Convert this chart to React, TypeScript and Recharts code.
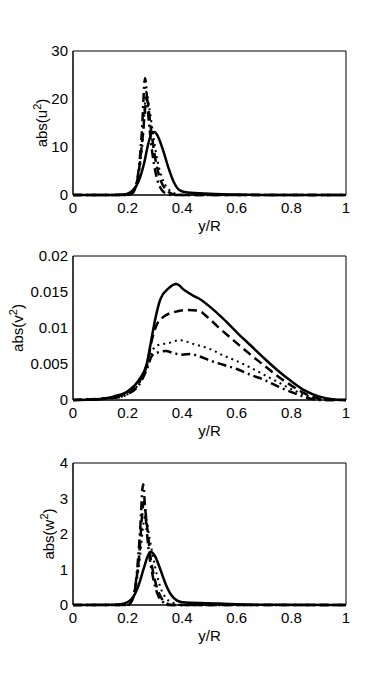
import { LineChart, Line, XAxis, YAxis } from "recharts";

// x positions (y/R) shared tick labels
const xTicks = [0, 0.2, 0.4, 0.6, 0.8, 1];

// abs(u^2)
const uTicks = [0, 10, 20, 30];
const uSolid = [[0, 0], [0.15, 0], [0.18, 0.1], [0.2, 0.3], [0.22, 1], [0.24, 2.8], [0.26, 6.5], [0.275, 10.5], [0.29, 13], [0.3, 13.1], [0.31, 12.3], [0.33, 9.3], [0.35, 5.6], [0.37, 2.6], [0.39, 1.0], [0.42, 0.5], [0.5, 0.25], [0.6, 0.08], [0.7, 0.02], [1, 0]];
const uDashed = [[0, 0], [0.2, 0], [0.22, 0.6], [0.24, 4.5], [0.255, 12], [0.27, 20], [0.285, 14], [0.3, 8], [0.32, 3.2], [0.34, 1.1], [0.36, 0.3], [0.38, 0], [1, 0]];
const uDotted = [[0, 0], [0.2, 0], [0.22, 0.5], [0.24, 4], [0.255, 11], [0.268, 21.5], [0.28, 18], [0.295, 12], [0.31, 7], [0.33, 3], [0.35, 1.2], [0.37, 0.4], [0.4, 0.05], [1, 0]];
const uDashDot = [[0, 0], [0.2, 0], [0.22, 0.6], [0.24, 5], [0.252, 13], [0.264, 24.3], [0.275, 17], [0.29, 9], [0.305, 4], [0.32, 1.5], [0.34, 0.3], [0.36, 0], [1, 0]];

// abs(v^2)
const vTicks = [0, 0.005, 0.01, 0.015, 0.02];
const vSolid = [[0, 0], [0.1, 0.0001], [0.15, 0.0005], [0.2, 0.0012], [0.24, 0.0027], [0.27, 0.005], [0.29, 0.009], [0.3, 0.011], [0.32, 0.014], [0.35, 0.0155], [0.378, 0.0161], [0.41, 0.0152], [0.44, 0.0145], [0.47, 0.0139], [0.5, 0.013], [0.55, 0.0113], [0.6, 0.0094], [0.65, 0.0076], [0.7, 0.0058], [0.75, 0.0041], [0.8, 0.0026], [0.85, 0.0013], [0.9, 0.0005], [0.95, 0.0001], [1, 0]];
const vDashed = [[0, 0], [0.15, 0.0004], [0.2, 0.001], [0.24, 0.0024], [0.27, 0.0048], [0.29, 0.0085], [0.305, 0.0103], [0.33, 0.0115], [0.37, 0.0122], [0.42, 0.0125], [0.46, 0.0124], [0.49, 0.0116], [0.53, 0.0102], [0.6, 0.0079], [0.65, 0.0063], [0.7, 0.0048], [0.75, 0.0033], [0.8, 0.002], [0.85, 0.0009], [0.9, 0.0002], [0.93, 0], [1, 0]];
const vDotted = [[0, 0], [0.15, 0.0003], [0.2, 0.0008], [0.24, 0.0022], [0.27, 0.0045], [0.29, 0.0068], [0.31, 0.0076], [0.35, 0.0079], [0.39, 0.0083], [0.44, 0.0078], [0.5, 0.0071], [0.55, 0.0062], [0.6, 0.0054], [0.65, 0.0045], [0.7, 0.0035], [0.75, 0.0025], [0.8, 0.0015], [0.85, 0.0007], [0.9, 0.0001], [0.92, 0], [1, 0]];
const vDashDot = [[0, 0], [0.15, 0.0003], [0.2, 0.0008], [0.24, 0.002], [0.27, 0.0042], [0.29, 0.0062], [0.31, 0.0066], [0.34, 0.0068], [0.37, 0.0065], [0.4, 0.0063], [0.43, 0.0064], [0.46, 0.0061], [0.5, 0.0055], [0.55, 0.0049], [0.6, 0.0043], [0.65, 0.0035], [0.7, 0.0028], [0.75, 0.0019], [0.8, 0.0011], [0.85, 0.0004], [0.88, 0.0001], [0.9, 0], [1, 0]];

// abs(w^2)
const wTicks = [0, 1, 2, 3, 4];
const wSolid = [[0, 0], [0.15, 0.01], [0.18, 0.03], [0.2, 0.08], [0.22, 0.22], [0.24, 0.55], [0.26, 1.05], [0.275, 1.4], [0.285, 1.5], [0.3, 1.38], [0.32, 1.0], [0.34, 0.58], [0.36, 0.28], [0.38, 0.13], [0.4, 0.08], [0.5, 0.05], [0.6, 0.02], [0.7, 0.005], [1, 0]];
const wDashed = [[0, 0], [0.2, 0], [0.22, 0.2], [0.24, 1.2], [0.26, 2.9], [0.27, 2.3], [0.285, 1.3], [0.3, 0.7], [0.32, 0.25], [0.34, 0.06], [0.36, 0], [1, 0]];
const wDotted = [[0, 0], [0.2, 0], [0.22, 0.18], [0.24, 1.0], [0.265, 2.5], [0.28, 1.9], [0.3, 1.1], [0.32, 0.5], [0.34, 0.2], [0.37, 0.05], [0.4, 0], [1, 0]];
const wDashDot = [[0, 0], [0.2, 0], [0.22, 0.2], [0.235, 1.0], [0.245, 2.0], [0.257, 3.4], [0.265, 2.6], [0.275, 1.7], [0.29, 0.9], [0.31, 0.3], [0.33, 0.08], [0.35, 0], [1, 0]];

const FONT = '"Liberation Sans", Arial, sans-serif';

const styles = [
  { strokeWidth: 2.5, dash: undefined },
  { strokeWidth: 2.5, dash: "9 5" },
  { strokeWidth: 2, dash: "2 4" },
  { strokeWidth: 2.5, dash: "9 4 2 4" },
];

const toPts = (arr: number[][]) => arr.map(([x, y]) => ({ x, y }));

type PanelProps = {
  top: number;
  plotHeight: number;
  series: number[][][];
  yTicks: number[];
  letter: string;
  labelX: number;
};

const Panel = ({ top, plotHeight, series, yTicks, letter, labelX }: PanelProps) => {
  const yDomain = [yTicks[0], yTicks[yTicks.length - 1]];
  const tickStyle = { fontSize: 15, fill: "#000", fontFamily: FONT };
  const blank = () => "";
  return (
    <div style={{ position: "absolute", left: 0, top }}>
      <LineChart width={382} height={25 + plotHeight + 40} margin={{ top: 25, right: 36, left: 0, bottom: 0 }}>
        {/* labelled axes */}
        <XAxis
          xAxisId="b"
          type="number"
          dataKey="x"
          domain={[0, 1]}
          ticks={xTicks}
          height={40}
          tickLine={false}
          tickSize={0}
          tickMargin={7}
          tick={tickStyle}
          stroke="#000"
          label={({ viewBox }: any) => (
            <text x={viewBox.x + viewBox.width / 2} y={viewBox.y + 36} textAnchor="middle" fontSize={15} fontFamily={FONT} fill="#000">
              y/R
            </text>
          )}
        />
        <YAxis
          yAxisId="l"
          type="number"
          domain={yDomain}
          ticks={yTicks}
          width={73}
          tickLine={false}
          tickSize={0}
          tickMargin={5}
          tick={tickStyle}
          stroke="#000"
          label={({ viewBox }: any) => (
            <text
              transform={`translate(${labelX}, ${viewBox.y + viewBox.height / 2}) rotate(-90)`}
              textAnchor="middle"
              fontSize={15}
              fontFamily={FONT}
              fill="#000"
            >
              abs({letter}
              <tspan dy={-6} fontSize={11}>2</tspan>
              <tspan dy={6}>)</tspan>
            </text>
          )}
        />
        {/* inward tick marks on all four sides */}
        <XAxis xAxisId="bm" type="number" domain={[0, 1]} ticks={xTicks} mirror tickSize={4} tickFormatter={blank} stroke="#000" />
        <XAxis xAxisId="tm" orientation="top" type="number" domain={[0, 1]} ticks={xTicks} mirror tickSize={4} tickFormatter={blank} stroke="#000" />
        <YAxis yAxisId="lm" type="number" domain={yDomain} ticks={yTicks} mirror tickSize={4} tickFormatter={blank} stroke="#000" />
        <YAxis yAxisId="rm" orientation="right" type="number" domain={yDomain} ticks={yTicks} mirror tickSize={4} tickFormatter={blank} stroke="#000" />
        {series.map((s, i) => (
          <Line
            key={i}
            xAxisId="b"
            yAxisId="l"
            data={toPts(s)}
            dataKey="y"
            type="monotone"
            stroke="#000"
            strokeWidth={styles[i].strokeWidth}
            strokeDasharray={styles[i].dash}
            dot={false}
            activeDot={false}
            isAnimationActive={false}
          />
        ))}
      </LineChart>
    </div>
  );
};

export default function App() {
  return (
    <div style={{ position: "absolute", left: 0, top: 0, width: 382, height: 685, background: "#fff", fontFamily: FONT }}>
      <Panel top={26} plotHeight={144} series={[uSolid, uDashed, uDotted, uDashDot]} yTicks={uTicks} letter="u" labelX={47} />
      <Panel top={231} plotHeight={144} series={[vSolid, vDashed, vDotted, vDashDot]} yTicks={vTicks} letter="v" labelX={23} />
      <Panel top={438} plotHeight={142} series={[wSolid, wDashed, wDotted, wDashDot]} yTicks={wTicks} letter="w" labelX={54} />
    </div>
  );
}
